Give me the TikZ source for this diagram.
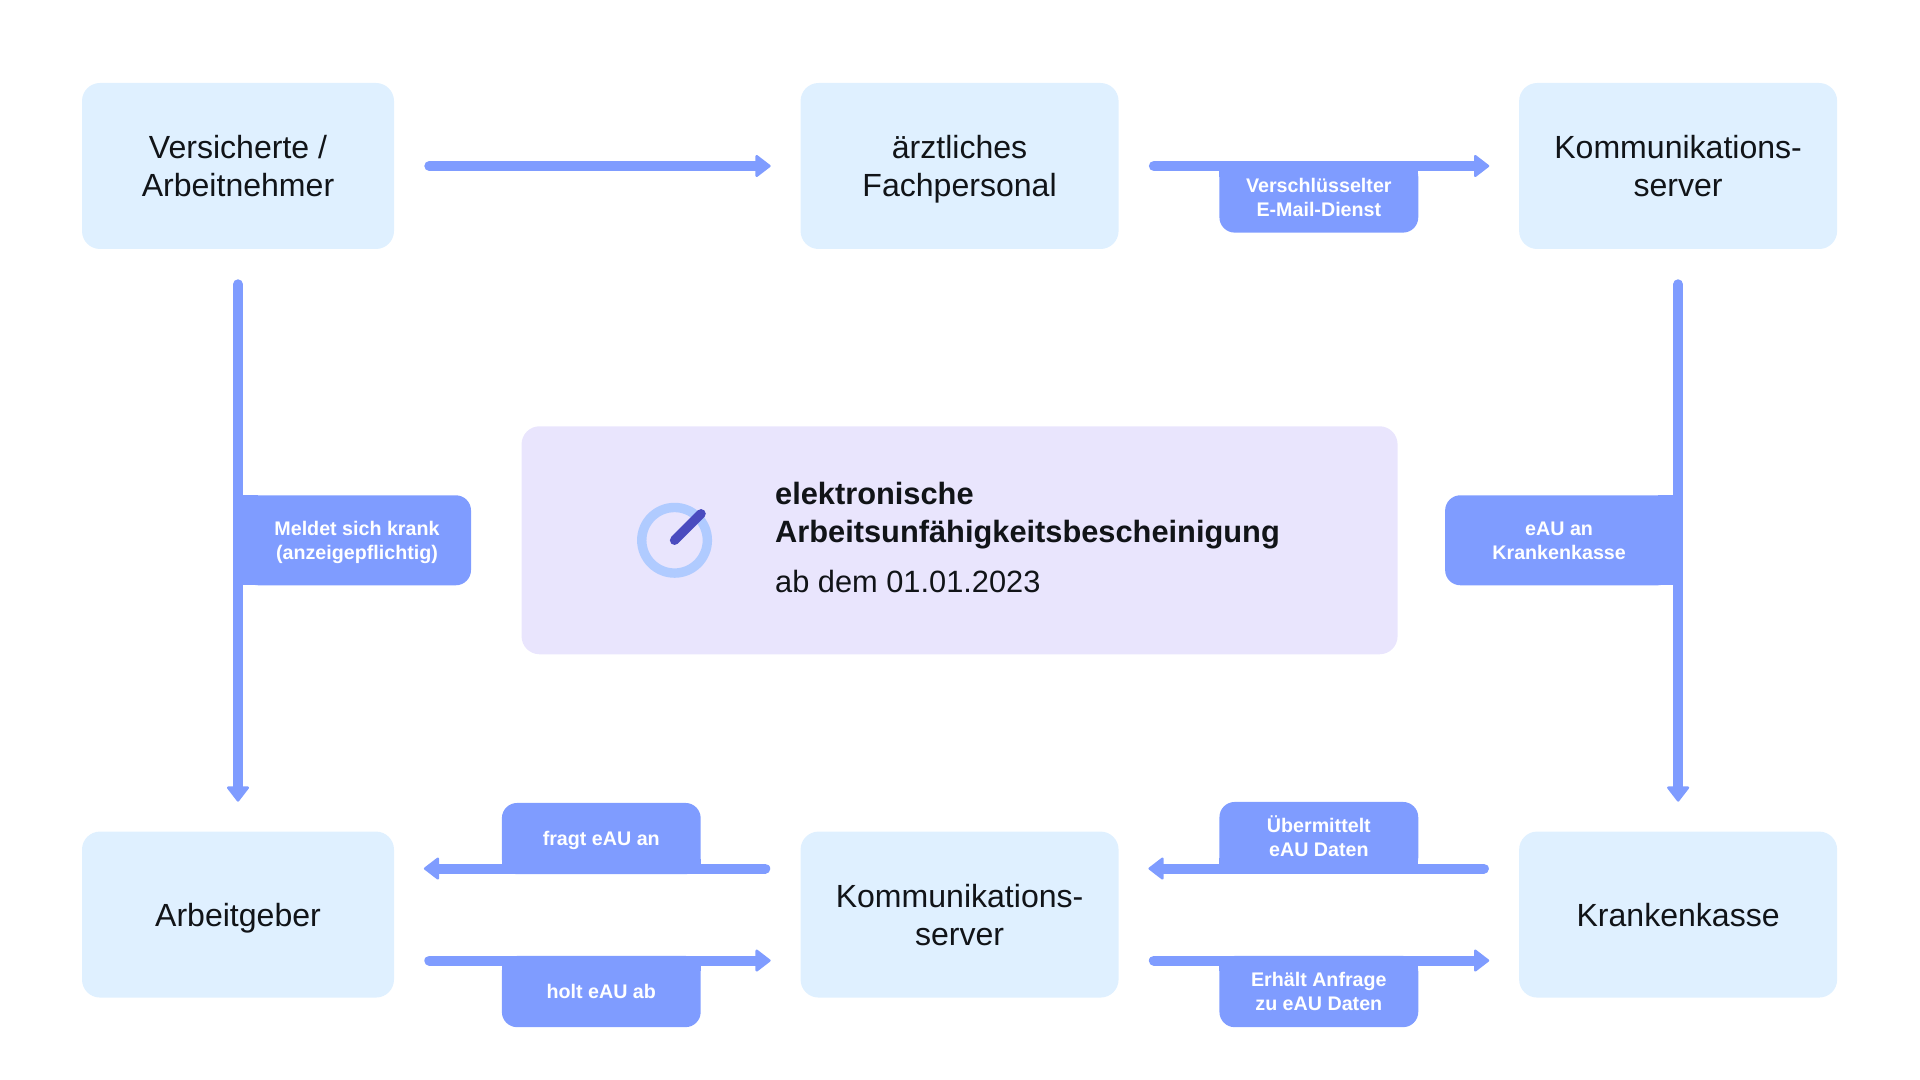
\documentclass[tikz,border=0pt]{standalone}
\usepackage{fontspec}
\setmainfont{Liberation Sans}
\usepackage{xcolor}
\definecolor{box-blue}{HTML}{DFF0FF}
\definecolor{box-lilac}{HTML}{E9E5FD}
\definecolor{arrow-blue}{HTML}{7F9CFF}
\definecolor{ring-blue}{HTML}{B0CBFF}
\definecolor{needle-blue}{HTML}{4A4BBF}
\definecolor{textblack}{HTML}{111418}
\usetikzlibrary{arrows.meta, positioning, calc}
\newcommand{\zeile}{\rule{0pt}{.95em}}

\begin{document}
\begin{tikzpicture}[
            node distance=14.55cm and 10cm,
            every node/.style={text=textblack},
            mainbox/.style={rectangle, fill=box-blue, minimum width=7.95cm, minimum height=4.15cm, align=center, rounded corners=.45cm, inner sep=0pt, font=\fontsize{22.8}{27}\selectfont, execute at end node={\rule[-.22em]{0pt}{.22em}}},
            tagbox/.style={rectangle, fill=arrow-blue, minimum width=4.97cm, minimum height=1.78cm, align=center, rounded corners=.38cm, inner sep=0pt, outer sep=0pt, text=white, font=\bfseries\fontsize{14}{17}\selectfont, execute at end node={\rule[-.22em]{0pt}{.22em}}},
            sidetag/.style={tagbox, minimum width=5.7cm, minimum height=2.25cm},
            arrow/.style={-{Triangle[length=.4cm, width=.6cm, line width=.06cm, round]}, line width=.25cm, line cap=round, arrow-blue, shorten <=.875cm, shorten >=.74cm}
        ]

        % --- background, fixes the proportions ---
        \useasboundingbox (0,0) rectangle (48,-27);

        % --- TOP ROW ---
        \node[mainbox, minimum width=7.8cm] (vers) at (5.95,-4.15) {\zeile Versicherte /\\Arbeitnehmer};
        \node[mainbox, right=10.15cm of vers] (fach) {\zeile ärztliches\\Fachpersonal};
        \node[mainbox, right=of fach] (komm1) {\zeile Kommunikations-\\server};

        % --- BOTTOM ROW ---
        \node[mainbox, minimum width=7.8cm, below=of vers] (chef) {\zeile Arbeitgeber};
        \node[mainbox, below=of fach] (komm2) {\zeile Kommunikations-\\server};
        \node[mainbox, below=of komm1] (kasse) {\zeile Krankenkasse};

        % --- CENTER ---
        \node[rectangle, fill=box-lilac, minimum width=21.9cm, minimum height=5.7cm, rounded corners=.45cm] (mitte) at ($(fach)!.5!(komm2)$) {};
        \node[circle, draw=ring-blue, line width=.235cm, minimum size=1.64cm, inner sep=0pt] (ring) at ([xshift=-7.125cm]mitte.center) {};
        \draw[needle-blue, line width=.235cm, line cap=round] (ring.center) -- (ring.45);
        \node[right=1.57cm of ring, yshift=.06cm, inner sep=0pt, align=left, font=\fontsize{21.9}{27}\selectfont] (titel) {%
            \textbf{elektronische}\\
            \textbf{Arbeitsunfähigkeitsbescheinigung}\\[.3cm]
            ab dem 01.01.2023};

        % --- ARROWS ---
        \draw[arrow] (vers.east) -- (fach.west);
        \draw[arrow] (fach.east) -- (komm1.west);
        \draw[arrow] (vers.south) -- (chef.north);
        \draw[arrow] (komm1.south) -- (kasse.north);
        \draw[arrow] ([yshift=1.15cm]komm2.west) -- ([yshift=1.15cm]chef.east);
        \draw[arrow] ([yshift=-1.15cm]chef.east) -- ([yshift=-1.15cm]komm2.west);
        \draw[arrow] ([yshift=1.15cm]kasse.west) -- ([yshift=1.15cm]komm2.east);
        \draw[arrow] ([yshift=-1.15cm]komm2.east) -- ([yshift=-1.15cm]kasse.west);

        % --- LABELS ---
        \node[tagbox, yshift=-.775cm] (mail) at ($(fach.east)!.5!(komm1.west)$) {\zeile Verschlüsselter\\E-Mail-Dienst};
        \fill[arrow-blue] (mail.north west) rectangle ([yshift=-.38cm]mail.north east);

        \node[sidetag, anchor=west, xshift=.125cm] (krank) at (vers |- mitte) {\zeile Meldet sich krank\\(anzeigepflichtig)};
        \fill[arrow-blue] (krank.north west) rectangle ([xshift=.38cm]krank.south west);

        \node[sidetag, anchor=east, xshift=-.125cm] (eau) at (komm1 |- mitte) {\zeile eAU an\\Krankenkasse};
        \fill[arrow-blue] (eau.north east) rectangle ([xshift=-.38cm]eau.south east);

        \node[tagbox, xshift=.1cm, yshift=1.9cm] (fragt) at ($(chef.east)!.5!(komm2.west)$) {\zeile fragt eAU an};
        \fill[arrow-blue] (fragt.south west) rectangle ([yshift=.38cm]fragt.south east);

        \node[tagbox, xshift=.1cm, yshift=-1.925cm] (holt) at ($(chef.east)!.5!(komm2.west)$) {\zeile holt eAU ab};
        \fill[arrow-blue] (holt.north west) rectangle ([yshift=-.38cm]holt.north east);

        \node[tagbox, yshift=1.925cm] (daten) at ($(komm2.east)!.5!(kasse.west)$) {\zeile Übermittelt\\eAU Daten};
        \fill[arrow-blue] (daten.south west) rectangle ([yshift=.38cm]daten.south east);

        \node[tagbox, yshift=-1.925cm] (anfrage) at ($(komm2.east)!.5!(kasse.west)$) {\zeile Erhält Anfrage\\zu eAU Daten};
        \fill[arrow-blue] (anfrage.north west) rectangle ([yshift=-.38cm]anfrage.north east);

\end{tikzpicture}
\end{document}
